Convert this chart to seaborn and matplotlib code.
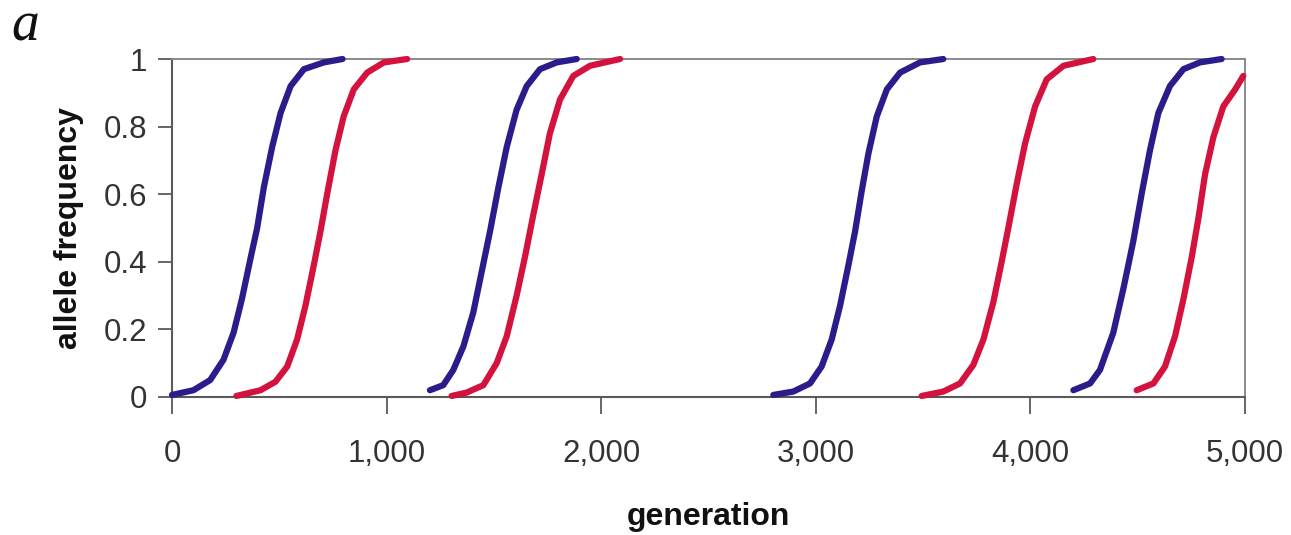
import matplotlib
matplotlib.use("Agg")
import matplotlib.pyplot as plt
import seaborn as sns

# curves: generation -> allele frequency
blue1_gen = [0, 100, 178, 240, 287, 326, 366, 397, 428, 467, 506, 553, 615, 708, 795]
blue1_frq = [0.006, 0.02, 0.05, 0.11, 0.19, 0.29, 0.41, 0.50, 0.62, 0.74, 0.84, 0.92, 0.97, 0.99, 1.0]
red1_gen = [300, 413, 482, 537, 583, 622, 661, 692, 723, 762, 800, 847, 910, 988, 1096]
red1_frq = [0.003, 0.02, 0.045, 0.09, 0.17, 0.27, 0.39, 0.49, 0.60, 0.73, 0.83, 0.91, 0.96, 0.99, 1.0]

blue2_gen = [1202, 1264, 1311, 1358, 1404, 1443, 1482, 1521, 1560, 1606, 1653, 1715, 1793, 1886]
blue2_frq = [0.02, 0.035, 0.08, 0.15, 0.25, 0.37, 0.49, 0.62, 0.74, 0.85, 0.92, 0.97, 0.99, 1.0]
red2_gen = [1303, 1373, 1451, 1513, 1560, 1606, 1645, 1684, 1723, 1761, 1808, 1870, 1948, 2088]
red2_frq = [0.003, 0.013, 0.035, 0.10, 0.18, 0.30, 0.415, 0.54, 0.66, 0.78, 0.88, 0.95, 0.98, 1.0]

blue3_gen = [2802, 2895, 2973, 3027, 3074, 3113, 3152, 3183, 3214, 3245, 3284, 3331, 3393, 3486, 3594]
blue3_frq = [0.006, 0.016, 0.04, 0.09, 0.17, 0.27, 0.39, 0.49, 0.61, 0.72, 0.83, 0.91, 0.96, 0.99, 1.0]
red3_gen = [3493, 3594, 3672, 3734, 3781, 3827, 3866, 3897, 3936, 3975, 4022, 4076, 4154, 4293]
red3_frq = [0.003, 0.016, 0.04, 0.095, 0.17, 0.28, 0.40, 0.50, 0.63, 0.75, 0.86, 0.94, 0.98, 1.0]

blue4_gen = [4200, 4278, 4324, 4386, 4433, 4479, 4518, 4557, 4596, 4650, 4713, 4790, 4891]
blue4_frq = [0.02, 0.04, 0.08, 0.19, 0.32, 0.46, 0.60, 0.73, 0.84, 0.92, 0.97, 0.99, 1.0]
red4_gen = [4495, 4573, 4627, 4674, 4713, 4752, 4783, 4814, 4853, 4899, 4954, 4992]
red4_frq = [0.02, 0.04, 0.09, 0.18, 0.29, 0.415, 0.53, 0.66, 0.77, 0.86, 0.91, 0.95]

x_ticks = [0, 1000, 2000, 3000, 4000, 5000]
x_labels = ["0", "1,000", "2,000", "3,000", "4,000", "5,000"]
y_ticks = [0, 0.2, 0.4, 0.6, 0.8, 1]
y_labels = ["0", "0.2", "0.4", "0.6", "0.8", "1"]

BLUE = "#2b1c8c"
RED = "#d3123d"

sns.set_theme(style="white")
plt.rcParams["font.family"] = ["Liberation Sans", "DejaVu Sans"]

fig = plt.figure(figsize=(12.91, 5.35), dpi=100)
ax = fig.add_axes([0.1332, 0.258, 0.8312, 0.6317])

curves = [
    (blue1_gen, blue1_frq, BLUE), (red1_gen, red1_frq, RED),
    (blue2_gen, blue2_frq, BLUE), (red2_gen, red2_frq, RED),
    (blue3_gen, blue3_frq, BLUE), (red3_gen, red3_frq, RED),
    (blue4_gen, blue4_frq, BLUE), (red4_gen, red4_frq, RED),
]
for g, f, c in curves:
    sns.lineplot(x=g, y=f, color=c, linewidth=4.5, sort=False, ax=ax,
                 solid_capstyle="round", solid_joinstyle="round",
                 clip_on=False, zorder=3)

ax.set_xlim(0, 5000)
ax.set_ylim(0, 1)
ax.set_xticks(x_ticks, x_labels)
ax.set_yticks(y_ticks, y_labels)

for side in ["top", "right"]:
    ax.spines[side].set_color("#8a8a8a")
    ax.spines[side].set_linewidth(1.4)
for side in ["left", "bottom"]:
    ax.spines[side].set_color("#5a5a5a")
    ax.spines[side].set_linewidth(1.5)

ax.tick_params(axis="x", direction="out", length=12, width=1.3, color="#5a5a5a",
               pad=18, labelsize=22.5, labelcolor="#333333", bottom=True)
ax.tick_params(axis="y", direction="out", length=10, width=1.3, color="#5a5a5a",
               pad=8, labelsize=22.5, labelcolor="#333333", left=True)

ax.set_xlabel("generation", fontsize=23, fontweight="bold", color="#111111", labelpad=24)
ax.set_ylabel("allele frequency", fontsize=23, fontweight="bold", color="#111111", labelpad=14)

fig.text(0.009, 0.925, "a", fontsize=40, style="italic", va="baseline",
         family=["Liberation Serif", "DejaVu Serif"], color="#111111")

fig.savefig("out.png", dpi=100, facecolor="white")
